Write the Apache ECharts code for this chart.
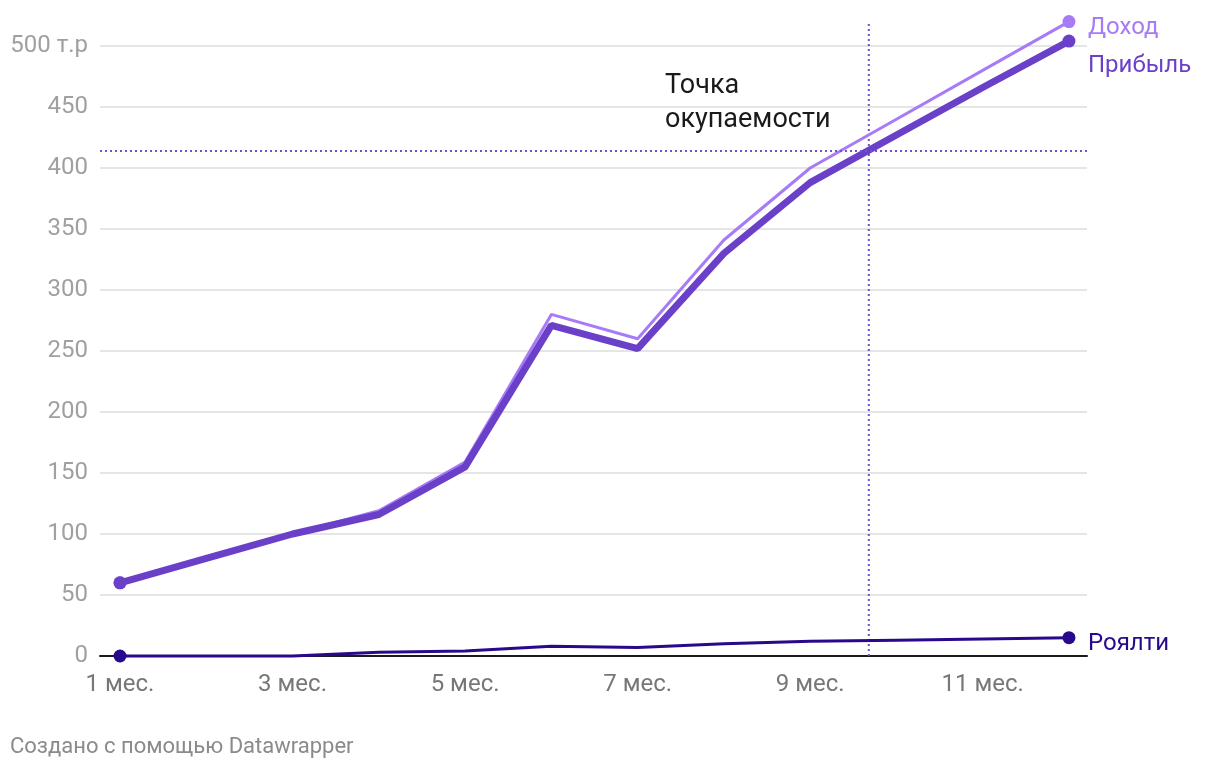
<!DOCTYPE html>
<html>
<head>
<meta charset="utf-8">
<script src="https://cdn.jsdelivr.net/npm/echarts@6/dist/echarts.min.js"></script>
<style>
html,body{margin:0;padding:0;background:#fff;}
#chart{width:1220px;height:772px;}
</style>
</head>
<body>
<div id="chart"></div>
<script>
// Data
var months = [1, 2, 3, 4, 5, 6, 7, 8, 9, 10, 11, 12];
var xTickValues = [1, 3, 5, 7, 9, 11];
var yTickValues = [0, 50, 100, 150, 200, 250, 300, 350, 400, 450, 500];
var incomeValues = [60, 80, 100, 119, 159, 280, 260, 341, 400, 440, 480, 520];
var profitValues = [60, 80, 100, 116, 155, 271, 252, 330, 388, 427, 466, 504];
var royaltyValues = [0, 0, 0, 3, 4, 8, 7, 10, 12, 13, 14, 15];
var breakEvenMonth = 9.68;
var breakEvenValue = 414;
var breakEvenLineSpan = [0, 520];
var seriesNames = ['Доход', 'Прибыль', 'Роялти'];

var FONT = 'Roboto, "Noto Sans", sans-serif';
var cIncome = '#a77bf7', cProfit = '#6b40c9', cRoyalty = '#28098c', cRef = '#6e52d0';

function pairs(vals) { return months.map(function (m, i) { return [m, vals[i]]; }); }
function endSymbol(last) {
  return function (v, p) { return (p.dataIndex === 0 || p.dataIndex === last) ? 13 : 0; };
}
var lastIdx = months.length - 1;

var chart = echarts.init(document.getElementById('chart'), null, {renderer: 'canvas'});
chart.setOption({
  backgroundColor: '#fff',
  animation: false,
  grid: {left: 100, right: 133, top: 46, bottom: 116, containLabel: false},
  xAxis: {
    type: 'value', min: 0.768, max: 12.209,
    axisLine: {show: true, onZero: true, lineStyle: {color: '#1a1a1a', width: 2}},
    axisTick: {show: false},
    splitLine: {show: false},
    axisLabel: {customValues: xTickValues, color: '#777', fontSize: 24, fontFamily: FONT, margin: 17,
      formatter: function (v) { return v + ' мес.'; }}
  },
  yAxis: {
    type: 'value', min: 0, max: 500, interval: 50,
    axisLine: {show: false}, axisTick: {show: false},
    splitLine: {show: true, lineStyle: {color: '#e5e5e5', width: 2}},
    axisLabel: {color: '#a0a0a0', fontSize: 24, fontFamily: FONT, margin: 12,
      formatter: function (v) { return v === 500 ? '500 т.р' : String(v); }}
  },
  series: [
    {
      name: 'breakEvenVertical', type: 'line', silent: true, clip: false,
      data: breakEvenLineSpan.map(function (v) { return [breakEvenMonth, v]; }),
      showSymbol: false, symbol: 'none',
      lineStyle: {color: cRef, width: 2, type: [2, 3]}, z: 1
    },
    {
      name: seriesNames[0], type: 'line', data: pairs(incomeValues), clip: false,
      lineStyle: {color: cIncome, width: 3}, itemStyle: {color: cIncome},
      symbol: 'circle', showSymbol: true, symbolSize: endSymbol(lastIdx), z: 3,
      endLabel: {show: true, formatter: seriesNames[0], color: cIncome, fontSize: 24, fontFamily: FONT, distance: 19, offset: [0, 6]},
      markLine: {
        silent: true, symbol: 'none', label: {show: false},
        lineStyle: {color: cRef, width: 2, type: [2, 3]},
        data: [{yAxis: breakEvenValue}]
      }
    },
    {
      name: seriesNames[1], type: 'line', data: pairs(profitValues), clip: false,
      lineStyle: {color: cProfit, width: 7}, itemStyle: {color: cProfit},
      symbol: 'circle', showSymbol: true, symbolSize: endSymbol(lastIdx), z: 4,
      endLabel: {show: true, formatter: seriesNames[1], color: cProfit, fontSize: 24, fontFamily: FONT, distance: 19, offset: [0, 25]}
    },
    {
      name: seriesNames[2], type: 'line', data: pairs(royaltyValues), clip: false,
      lineStyle: {color: cRoyalty, width: 3}, itemStyle: {color: cRoyalty},
      symbol: 'circle', showSymbol: true, symbolSize: endSymbol(lastIdx), z: 5,
      endLabel: {show: true, formatter: seriesNames[2], color: cRoyalty, fontSize: 24, fontFamily: FONT, distance: 19, offset: [0, 6]}
    }
  ],
  graphic: [
    {type: 'text', left: 665, top: 69, style: {text: 'Точка\nокупаемости', font: '27px ' + FONT, fill: '#1a1a1a', lineHeight: 34}},
    {type: 'text', left: 10, top: 736, style: {text: 'Создано с помощью Datawrapper', font: '22px ' + FONT, fill: '#8a8a8a'}}
  ]
});
</script>
</body>
</html>
